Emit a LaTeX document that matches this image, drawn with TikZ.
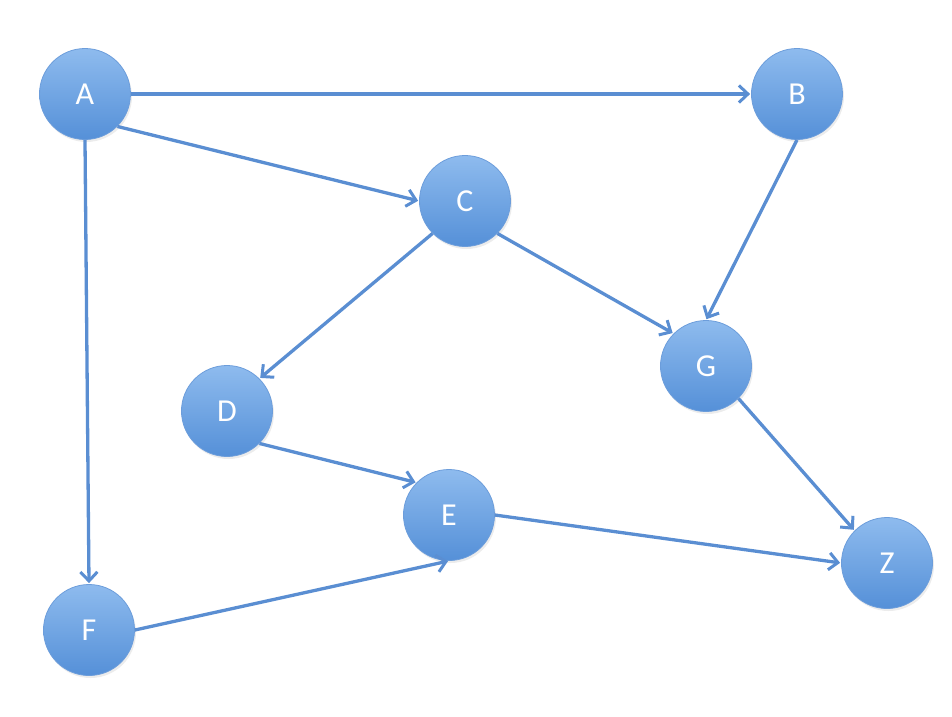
\documentclass[tikz,border=0pt]{standalone}
\usepackage{fontspec}
\setmainfont{Carlito}
\usetikzlibrary{arrows.meta,shadows}
\definecolor{edgeblue}{HTML}{5A8ED2}
\definecolor{topblue}{HTML}{8EBBEE}
\definecolor{botblue}{HTML}{5590D8}
\definecolor{rimblue}{HTML}{6C9DDB}
\tikzset{
  vtx/.style={circle, minimum size=91pt, inner sep=0pt, top color=topblue, bottom color=botblue,
    draw=rimblue, line width=0.8pt, text=white, font=\fontsize{32}{32}\selectfont,
    drop shadow={opacity=0.15, shadow xshift=1.5pt, shadow yshift=-2.5pt}},
  conn/.style={draw=edgeblue, line width=3.3pt, -{Straight Barb[length=9pt,width=17pt,line width=3pt]}, shorten >=1pt}
}
\begin{document}
\begin{tikzpicture}[x=1pt,y=-1pt]
\useasboundingbox (0,0) rectangle (952,716);
\node[vtx] (A) at (85,94) {\raisebox{-2pt}{A}};
\node[vtx] (B) at (797,94) {\raisebox{-2pt}{B}};
\node[vtx] (C) at (465,201) {\raisebox{-2pt}{C}};
\node[vtx] (D) at (227,411) {\raisebox{-2pt}{D}};
\node[vtx] (E) at (449,515) {\raisebox{-2pt}{E}};
\node[vtx] (F) at (89,630) {\raisebox{-2pt}{F}};
\node[vtx] (G) at (706,366) {\raisebox{-2pt}{G}};
\node[vtx] (Z) at (887,563) {\raisebox{-2pt}{Z}};
\draw[conn] (A.east) -- (B.west);
\draw[conn] (A.south east) -- (C.west);
\draw[conn] (A.south) -- (F.north);
\draw[conn] (B.south) -- (G.north);
\draw[conn] (C.south east) -- (G.north west);
\draw[conn] (C.south west) -- (D.north east);
\draw[conn] (D.south east) -- (E.north west);
\draw[conn] (E.east) -- (Z.west);
\draw[conn] (F.east) -- (E.south);
\draw[conn] (G.south east) -- (Z.north west);
\end{tikzpicture}
\end{document}
